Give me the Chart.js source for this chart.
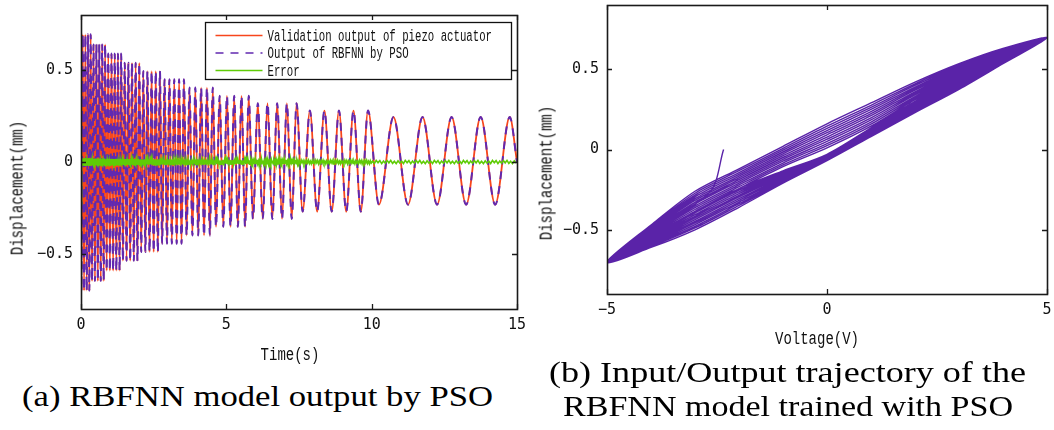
<!DOCTYPE html>
<html>
<head>
<meta charset="utf-8">
<script src="https://cdn.jsdelivr.net/npm/chart.js@4.4.1/dist/chart.umd.min.js"></script>
<style>
  html, body { margin: 0; padding: 0; background: #fff; }
  body { width: 1054px; height: 430px; overflow: hidden; position: relative; }
  .pane { position: absolute; }
  canvas { display: block; }
  .axt { position: absolute; font-family: "Liberation Mono", "DejaVu Sans Mono", monospace; font-size: 14px;
         color: #111; white-space: nowrap; line-height: 14px; }
  .cap { position: absolute; font-family: "Liberation Serif", "DejaVu Serif", serif; font-size: 30px;
         color: #000; white-space: nowrap; line-height: 30px; transform-origin: 0 0; }
</style>
</head>
<body>
<div class="pane" style="left:0;top:0;width:540px;height:370px"><canvas id="respChart" width="540" height="370"></canvas></div>
<div class="pane" style="left:530px;top:0;width:524px;height:370px"><canvas id="loopChart" width="524" height="370"></canvas></div>

<div class="axt" style="left:290px;top:355px;transform:translate(-50%,-50%) scaleY(1.3)">Time(s)</div>
<div class="axt" style="left:17px;top:188px;transform:translate(-50%,-50%) rotate(-90deg) scaleY(1.3)">Displacement(mm)</div>
<div class="axt" style="left:817px;top:339px;transform:translate(-50%,-50%) scaleY(1.3)">Voltage(V)</div>
<div class="axt" style="left:546px;top:173px;transform:translate(-50%,-50%) rotate(-90deg) scaleY(1.3)">Displacement(mm)</div>

<div class="cap" id="capA" style="left:22px;top:381px">(a) RBFNN model output by PSO</div>
<div class="cap" id="capB1" style="left:549px;top:357px">(b) Input/Output trajectory of the</div>
<div class="cap" id="capB2" style="left:563px;top:391px">RBFNN model trained with PSO</div>

<script>
// ---------------- (a) validation run: stepped-frequency drive ----------------
// Each step holds 5 cycles at one frequency; displacement swings shrink as the frequency drops.
const segFreqHz   = [11, 10, 9, 8, 7, 6, 5, 4, 3, 2, 1];
const segStartS   = [-0.0995, 0.355, 0.855, 1.411, 2.036, 2.75, 3.583, 4.583, 5.833, 7.5, 10.0];
const segPeakMm   = [0.695, 0.64, 0.59, 0.54, 0.495, 0.45, 0.405, 0.36, 0.32, 0.28, 0.245];
const segTroughMm = [-0.70, -0.648, -0.592, -0.538, -0.49, -0.445, -0.40, -0.353, -0.31, -0.27, -0.232];
const cyclesPerStep = 5;
const timeEndS = 15;

// Modelling error band (half-width per step) and its ripple over one drive cycle
const segErrMm = [0.021, 0.019, 0.017, 0.016, 0.015, 0.014, 0.013, 0.012, 0.011, 0.010, 0.009];
const errShape = [0.5, -0.9, 1.0, -0.4, 0.8, -1.0, 0.6, -0.7, 0.9, -0.5, 1.0, -0.8, 0.4, -1.0, 0.7, -0.6];
const errStartMm = -0.232;

const timeTicks = [0, 5, 10, 15];
const dispTicksA = [-0.5, 0, 0.5];

// ---------------- (b) input/output trajectory (hysteresis loops) ----------------
// Outermost and innermost loops; the other loops lie between them.
const voltNodes   = [-5, -4, -3, -2, -1, 0, 1, 2, 3, 4, 5];
const outerFallMm = [-0.70, -0.47, -0.26, -0.12, 0.02, 0.16, 0.29, 0.42, 0.535, 0.63, 0.696];
const outerRiseMm = [-0.70, -0.61, -0.50, -0.36, -0.21, -0.07, 0.08, 0.23, 0.375, 0.535, 0.696];
const innerFallMm = [-0.70, -0.54, -0.385, -0.243, -0.107, 0.01, 0.145, 0.31, 0.45, 0.58, 0.696];
const innerRiseMm = [-0.70, -0.54, -0.385, -0.243, -0.133, -0.03, 0.135, 0.30, 0.445, 0.575, 0.696];
const loopSpread  = [0, 0.09, 0.18, 0.27, 0.36, 0.45, 0.54, 0.63, 0.72, 0.81, 0.9, 1.0];
const strayVolt = [-2.35, -2.68];
const strayMm   = [0.0, -0.27];
const voltTicks = [-5, 0, 5];
const dispTicksB = [-0.5, 0, 0.5];

const COL_VALID = '#f7461c';
const COL_MODEL = '#6129b0';
const COL_ERROR = '#5fcc06';
const COL_LOOP  = '#5a23a8';
const TICK_FONT = { family: '"DejaVu Sans Mono", "Liberation Mono", monospace', size: 15 };

const fmt = v => (v < 0 ? '\u2212' + String(-v) : String(v));

// Peak/trough sequence of the response, in time order
function responsePoints() {
  const pts = [{ x: 0, y: 0 }];
  segFreqHz.forEach((f, i) => {
    for (let k = 0; k < cyclesPerStep; k++) {
      const tT = segStartS[i] + (k + 0.25) / f;
      const tP = segStartS[i] + (k + 0.75) / f;
      if (tT > 0 && tT < timeEndS) pts.push({ x: tT, y: segTroughMm[i] });
      if (tP > 0 && tP < timeEndS) pts.push({ x: tP, y: segPeakMm[i] });
    }
  });
  pts.push({ x: timeEndS, y: 0 });
  return pts;
}

function errorPoints() {
  const pts = [{ x: 0, y: errStartMm }, { x: 0.004, y: 0 }];
  segFreqHz.forEach((f, i) => {
    for (let k = 0; k < cyclesPerStep; k++) {
      errShape.forEach((s, m) => {
        const t = segStartS[i] + (k + (m + 0.5) / errShape.length) / f;
        if (t > 0.004 && t < timeEndS) pts.push({ x: t, y: s * segErrMm[i] });
      });
    }
  });
  return pts;
}

function loopPoints() {
  const pts = strayVolt.map((v, i) => ({ x: v, y: strayMm[i] }));
  const n = voltNodes.length;
  const mix = (a, b, j, w) => a[j] + w * (b[j] - a[j]);
  loopSpread.slice().reverse().forEach(w => {
    for (let j = 0; j < n; j++) pts.push({ x: voltNodes[j], y: mix(innerRiseMm, outerRiseMm, j, w) });
    for (let j = n - 2; j >= 1; j--) pts.push({ x: voltNodes[j], y: mix(innerFallMm, outerFallMm, j, w) });
  });
  pts.push({ x: voltNodes[0], y: outerFallMm[0] });
  return pts;
}

// Box frame with inward tick marks on all four sides
const boxFrame = {
  id: 'boxFrame',
  afterDatasetsDraw(chart) {
    const { ctx, chartArea: a, scales } = chart;
    const L = 5;
    ctx.save();
    ctx.strokeStyle = '#1a1a1a';
    ctx.lineWidth = 1.3;
    ctx.beginPath();
    scales.x.ticks.forEach(t => {
      const px = Math.round(scales.x.getPixelForValue(t.value)) + 0.5;
      ctx.moveTo(px, a.bottom); ctx.lineTo(px, a.bottom - L);
      ctx.moveTo(px, a.top); ctx.lineTo(px, a.top + L);
    });
    scales.y.ticks.forEach(t => {
      const py = Math.round(scales.y.getPixelForValue(t.value)) + 0.5;
      ctx.moveTo(a.left, py); ctx.lineTo(a.left + L, py);
      ctx.moveTo(a.right, py); ctx.lineTo(a.right - L, py);
    });
    ctx.stroke();
    ctx.lineWidth = 1.6;
    ctx.strokeRect(Math.round(a.left) + 0.5, Math.round(a.top) + 0.5,
                   Math.round(a.right - a.left), Math.round(a.bottom - a.top));
    ctx.restore();
  }
};

// Framed legend in the upper right corner of the plot
const boxLegend = {
  id: 'boxLegend',
  afterDraw(chart, args, o) {
    if (!o || !o.show) return;
    const { ctx, chartArea: a } = chart;
    const x0 = Math.round(a.right - o.right - o.width) + 0.5;
    const y0 = Math.round(a.top + o.top) + 0.5;
    ctx.save();
    ctx.fillStyle = '#fff';
    ctx.fillRect(x0, y0, o.width, o.height);
    ctx.strokeStyle = '#111';
    ctx.lineWidth = 1.3;
    ctx.strokeRect(x0, y0, o.width, o.height);
    chart.data.datasets.forEach((ds, i) => {
      const cy = y0 + o.rowTop + i * o.rowGap;
      ctx.strokeStyle = ds.borderColor;
      ctx.lineWidth = 1.6;
      ctx.setLineDash(ds.borderDash || []);
      ctx.beginPath();
      ctx.moveTo(x0 + 10, cy); ctx.lineTo(x0 + 57, cy);
      ctx.stroke();
      ctx.setLineDash([]);
      ctx.save();
      ctx.translate(x0 + 62, cy);
      ctx.scale(1, 1.5);
      ctx.fillStyle = '#111';
      ctx.font = '10.7px "Liberation Mono", "DejaVu Sans Mono", monospace';
      ctx.textBaseline = 'middle';
      ctx.fillText(ds.label, 0, 0.5);
      ctx.restore();
    });
    ctx.restore();
  }
};

function axisScale(min, max, ticks, size, isX) {
  return {
    type: 'linear', min, max,
    afterBuildTicks: s => { s.ticks = ticks.map(v => ({ value: v })); },
    ticks: { color: '#111', font: TICK_FONT, padding: isX ? 7 : 8, maxRotation: 0, callback: fmt },
    grid: { display: false, drawTicks: false },
    border: { display: false },
    afterFit: s => {
      if (isX) { s.height = size; s.paddingLeft = 0; s.paddingRight = 0; }
      else { s.width = size; s.paddingTop = 0; s.paddingBottom = 0; }
    }
  };
}

new Chart(document.getElementById('respChart'), {
  type: 'line',
  data: {
    datasets: [
      { label: 'Validation output of piezo actuator', data: responsePoints(), borderColor: COL_VALID,
        borderWidth: 1.8, cubicInterpolationMode: 'monotone', order: 2 },
      { label: 'Output of RBFNN by PSO', data: responsePoints(), borderColor: COL_MODEL,
        borderWidth: 2.0, borderDash: [8, 7], cubicInterpolationMode: 'monotone', order: 1 },
      { label: 'Error', data: errorPoints(), borderColor: COL_ERROR, borderWidth: 1.6, tension: 0, order: 0 }
    ]
  },
  options: {
    responsive: false, animation: false, events: [],
    elements: { point: { radius: 0 } },
    layout: { padding: { left: 0, top: 15, right: 23, bottom: 0 } },
    plugins: {
      legend: { display: false }, tooltip: { enabled: false },
      boxLegend: { show: true, width: 306, height: 57, right: 6, top: 7, rowTop: 13, rowGap: 17.5 }
    },
    scales: {
      x: axisScale(0, timeEndS, timeTicks, 61, true),
      y: axisScale(-0.8, 0.8, dispTicksA, 81, false)
    }
  },
  plugins: [boxFrame, boxLegend]
});

new Chart(document.getElementById('loopChart'), {
  type: 'scatter',
  data: {
    datasets: [
      { label: 'Trajectory', data: loopPoints(), showLine: true, borderColor: COL_LOOP,
        borderWidth: 1.4, tension: 0.3, pointRadius: 0 }
    ]
  },
  options: {
    responsive: false, animation: false, events: [],
    layout: { padding: { left: 0, top: 5, right: 7, bottom: 0 } },
    plugins: { legend: { display: false }, tooltip: { enabled: false } },
    scales: {
      x: axisScale(-5, 5, voltTicks, 76, true),
      y: axisScale(-0.9, 0.9, dispTicksB, 77, false)
    }
  },
  plugins: [boxFrame]
});

// Stretch the serif captions to their set widths
function fitWidth(id, width) {
  const el = document.getElementById(id);
  const w = el.getBoundingClientRect().width;
  el.style.transform = 'scaleX(' + (width / w) + ')';
}
fitWidth('capA', 471);
fitWidth('capB1', 477);
fitWidth('capB2', 450);
</script>
</body>
</html>
